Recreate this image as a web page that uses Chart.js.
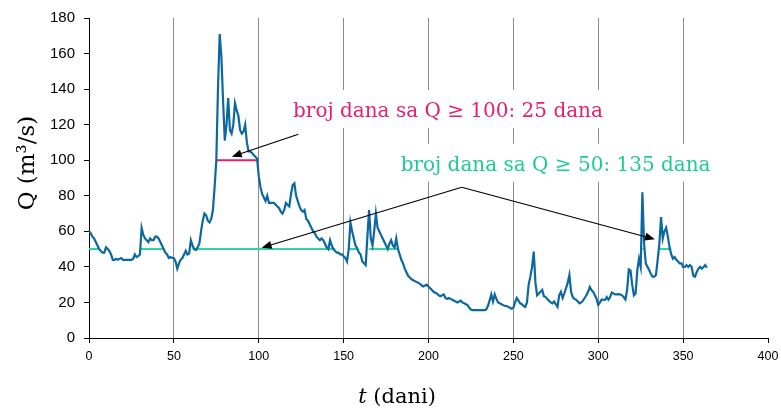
<!DOCTYPE html>
<html><head><meta charset="utf-8">
<script src="https://cdn.jsdelivr.net/npm/chart.js@4"></script>
<style>html,body{margin:0;padding:0;background:#fff;}#wrap{width:781px;height:409px;}</style>
</head><body><div id="wrap"><canvas id="c" width="781" height="409"></canvas></div>
<script>
// Daily discharge Q (m3/s), day 0..364
const flow = [
 60,59,57,56,54,52,50,49,48,48,
 51,50,49,47,44,44,44.5,44,44.5,45,
 44,44,44,44,44,44,44.5,47,45.5,46,
 47,62,58,56,55,54,56,55,55,57,
 57,56,54,52,50,48,47,45,45.5,45,
 45,43,39,42,44,45,47,49,47,47.5,
 55,52,50,49.5,51,53,60,66,70,69,
 66,65,67,72,85,100,141,171,158,133,
 111,120,135,117,115,120,132,128,125,117,
 115,116,120,110,105,105,104,103,102,101,
 91,85,81,79,77,80,76,76,76,76,
 75,74,73,71,70,72,76,75,74,81,
 86,87,80,77,74,72,71,72,67,66,
 64,62,60,59,57,56,55,56,55,53,
 51,50,55,52,50,49,48,48,47,47,
 46,45,43,50,65,60,56,52,50.5,48,
 47,43,42,41,57,72,56,52,60,70,
 62,60,58,56,54,52,50,53,55,52,
 51,56,50,47,44,42,39,37,35,34,
 33,32.5,32,31.5,31,30.5,29.5,29,29.5,30,
 29,28,27,26,25.5,25,24,23.5,24,24.5,
 22.5,22,22.5,22,21.5,21,20.5,20,20.5,21,
 20,19.5,19,18.5,17,16,15.7,15.7,15.7,15.7,
 15.7,15.7,15.7,15.7,16,18,21,24.5,20.5,24.5,
 22,20,19.5,19,18.5,18,18,17.5,17,16.5,
 17,20,22.5,21,19.5,19,18,17.5,20,30,
 34.5,40,48.6,31,24,25,26,27,23.5,23,
 22,21,20,19.5,20.5,19,17.6,24,26,22.5,
 25,28,31,35.5,26,23,22,21.5,20.5,19.5,
 20,21,22.5,24,26,28.7,27,26,24,22,
 18.6,20,21.7,21.5,21.4,23,21.5,23,25.5,25,
 24.5,24.5,24.7,24.5,24,23,21.7,27,38.6,38,
 30,24,25,38,44.6,40,82,53,42,40,
 38.2,36,34.5,34.5,35.5,44,53,68,56,60,
 62,57,51,47,44.6,45.6,44,43,42,42,
 40,40,41,40,41,40,35,34.5,37,39,
 40,39,40,41,39.5
];
const days = flow.map((v, i) => i);
// Day ranges with Q >= 50 and Q >= 100 (threshold lines)
const q50Ranges = [[0,6],[30,44],[61,145],[153,158],[165,182],[326,327],[336,343]];
const q100Ranges = [[75,99]];
const xTicks = [0,50,100,150,200,250,300,350,400];
const yTicks = [0,20,40,60,80,100,120,140,160,180];
const labelQ100 = 'broj dana sa Q \u2265 100: 25 dana';
const labelQ50 = 'broj dana sa Q \u2265 50: 135 dana';
// annotation anchors in data coords [day, Q]
const pinkTextPos = [120.2, 124.3];
const greenTextPos = [183.6, 94.1];
const pinkArrow = [[123.3,114.6],[84.1,102]];
const greenArrowFrom = [219.6,84.8];
const greenArrowTo = [[101.7,50.8],[333.4,55.5]];

function rangesToData(ranges, level){
  const out = [];
  ranges.forEach(r => { out.push({x:r[0],y:level}); out.push({x:r[1],y:level}); out.push({x:r[1]+0.5,y:null}); });
  return out;
}

const PINK = '#e61e6e', GREEN_TXT = '#1ecb98', GREEN_LINE = '#2ed4a4', BLUE = '#0b68a0';

function drawArrow(ctx,x1,y1,x2,y2){
  const a = Math.atan2(y2-y1,x2-x1), L=10, W=4;
  ctx.beginPath(); ctx.moveTo(x1,y1); ctx.lineTo(x2-L*0.6*Math.cos(a), y2-L*0.6*Math.sin(a)); ctx.stroke();
  ctx.beginPath(); ctx.moveTo(x2,y2);
  ctx.lineTo(x2-L*Math.cos(a)+W*Math.sin(a), y2-L*Math.sin(a)-W*Math.cos(a));
  ctx.lineTo(x2-L*Math.cos(a)-W*Math.sin(a), y2-L*Math.sin(a)+W*Math.cos(a));
  ctx.closePath(); ctx.fill();
}

const annot = {
  id:'annot',
  beforeDatasetsDraw(chart){
    const {ctx, scales:{x,y}} = chart;
    ctx.save();
    ctx.font = '20px "DejaVu Serif"';
    [[labelQ100,pinkTextPos],[labelQ50,greenTextPos]].forEach(([t,p]) => {
      const px = x.getPixelForValue(p[0]), py = y.getPixelForValue(p[1]);
      const w = ctx.measureText(t).width;
      ctx.fillStyle = '#fff';
      ctx.fillRect(px-7, py-27, w+14, 38);
    });
    ctx.restore();
  },
  afterDatasetsDraw(chart){
    const {ctx, scales:{x,y}} = chart;
    ctx.save();
    ctx.font = '20px "DejaVu Serif"';
    ctx.textBaseline = 'alphabetic';
    ctx.fillStyle = PINK;
    ctx.fillText(labelQ100, x.getPixelForValue(pinkTextPos[0]), y.getPixelForValue(pinkTextPos[1]));
    ctx.fillStyle = GREEN_TXT;
    ctx.fillText(labelQ50, x.getPixelForValue(greenTextPos[0]), y.getPixelForValue(greenTextPos[1]));
    ctx.strokeStyle = '#000'; ctx.fillStyle = '#000'; ctx.lineWidth = 1.2;
    drawArrow(ctx, x.getPixelForValue(pinkArrow[0][0]), y.getPixelForValue(pinkArrow[0][1]),
                   x.getPixelForValue(pinkArrow[1][0]), y.getPixelForValue(pinkArrow[1][1]));
    greenArrowTo.forEach(t => drawArrow(ctx, x.getPixelForValue(greenArrowFrom[0]), y.getPixelForValue(greenArrowFrom[1]),
                   x.getPixelForValue(t[0]), y.getPixelForValue(t[1])));
    ctx.restore();
  },
  afterDraw(chart){
    const {ctx} = chart;
    ctx.save();
    ctx.fillStyle = '#000';
    // y title
    ctx.translate(28, 163);
    ctx.rotate(-Math.PI/2);
    ctx.font = '23px "DejaVu Serif"';
    ctx.textAlign = 'center'; ctx.textBaseline = 'middle';
    ctx.fillText('Q (m\u00b3/s)', 0, 0);
    ctx.restore();
    // x title
    ctx.save();
    ctx.fillStyle = '#000';
    ctx.textBaseline = 'alphabetic';
    const t1 = 't', t2 = ' (dani)';
    ctx.font = 'italic 21px "DejaVu Serif"';
    const w1 = ctx.measureText(t1).width;
    ctx.font = '21px "DejaVu Serif"';
    const w2 = ctx.measureText(t2).width;
    const cx = 397;
    const sx = cx - (w1+w2)/2, by = 403;
    ctx.font = 'italic 21px "DejaVu Serif"'; ctx.fillText(t1, sx, by);
    ctx.font = '21px "DejaVu Serif"'; ctx.fillText(t2, sx+w1, by);
    ctx.restore();
  }
};

new Chart(document.getElementById('c'), {
  type:'line',
  data:{ datasets:[
    {data: days.map((d,i)=>({x:d,y:flow[i]})), borderColor:BLUE, borderWidth:2.2, pointRadius:0, tension:0},
    {data: rangesToData(q100Ranges,100), borderColor:PINK, borderWidth:2, pointRadius:0, spanGaps:false},
    {data: rangesToData(q50Ranges,50), borderColor:GREEN_LINE, borderWidth:2, pointRadius:0, spanGaps:false}
  ]},
  options:{
    responsive:false, animation:false, devicePixelRatio:1,
    layout:{padding:{left:0,right:13,top:18,bottom:0}},
    plugins:{legend:{display:false}, tooltip:{enabled:false}},
    scales:{
      x:{type:'linear', min:0, max:400,
        afterBuildTicks: s => { s.ticks = xTicks.map(v=>({value:v})); },
        ticks:{font:{family:'"Liberation Sans"', size:12.5}, color:'#000', padding:6, maxRotation:0},
        grid:{color: c => (c.tick && (c.tick.value===0 || c.tick.value===400)) ? 'rgba(0,0,0,0)' : '#8a8a8a', tickColor:'#000', tickLength:5, lineWidth:1},
        border:{color:'#000', width:1},
        afterFit: s => { s.height = 71; s.paddingRight = 0; s.paddingLeft = 0; }
      },
      y:{min:0, max:180,
        afterBuildTicks: s => { s.ticks = yTicks.map(v=>({value:v})); },
        ticks:{font:{family:'"Liberation Sans"', size:15}, color:'#000', padding:9},
        grid:{drawOnChartArea:false, tickColor:'#000', tickLength:5},
        border:{color:'#000', width:1},
        afterFit: s => { s.width = 89; s.paddingTop = 0; s.paddingBottom = 0; }
      }
    }
  },
  plugins:[annot]
});
</script></body></html>
